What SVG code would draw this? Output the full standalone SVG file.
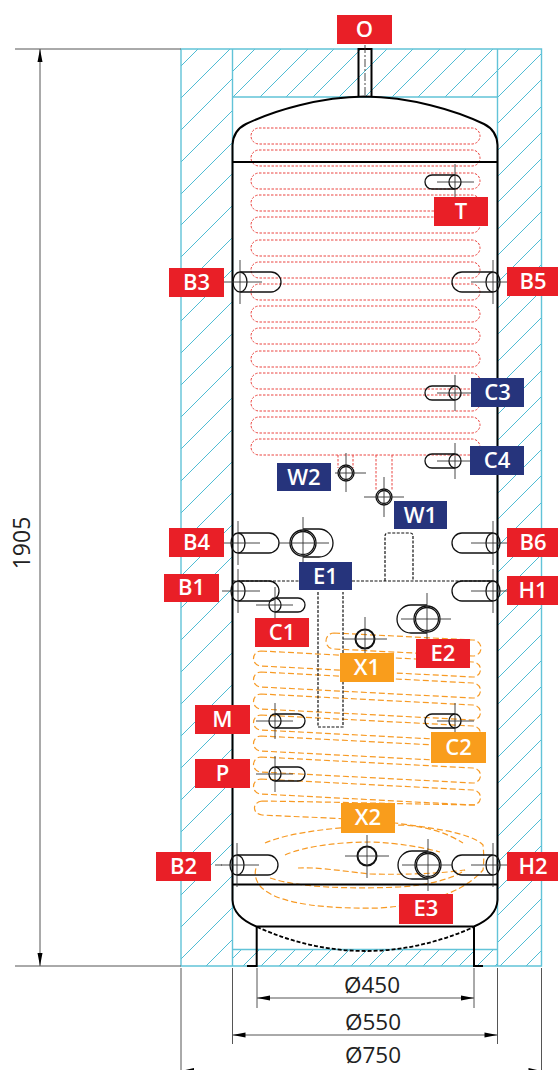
<svg xmlns="http://www.w3.org/2000/svg" xmlns:xlink="http://www.w3.org/1999/xlink" width="558" height="1070" viewBox="0 0 558 1070">
<style>
.hat{fill:none;stroke:#4fbcd4;stroke-width:1}
.frm{fill:none;stroke:#62c3d8;stroke-width:1.4}
.blk{fill:none;stroke:#000;stroke-width:2}
.fit{fill:none;stroke:#111;stroke-width:1.300}
.cross{fill:none;stroke:#333;stroke-width:.9}
.red{fill:none;stroke:#ea4540;stroke-width:1;stroke-dasharray:2.500 1.500}
.org{fill:none;stroke:#f79a24;stroke-width:1.200;stroke-dasharray:6 3}
.dsh{fill:none;stroke:#111;stroke-width:1.200;stroke-dasharray:3 1.500}
.dim{fill:none;stroke:#555;stroke-width:1}
.arr{fill:#000}
.r{fill:#e91f27}.n{fill:#26347c}.o{fill:#f99d1c}
.lb{font:600 22px "Open Sans",sans-serif;fill:#fff;text-anchor:middle}
.dt{font:400 22.500px "Open Sans",sans-serif;fill:#222;text-anchor:middle}
</style>
<defs>
<clipPath id="cl"><rect x="181" y="49" width="51.500" height="917"/></clipPath>
<clipPath id="cr"><rect x="497.500" y="49" width="44" height="917"/></clipPath>
<clipPath id="ct"><rect x="232.500" y="49" width="265" height="48"/></clipPath>
<clipPath id="cb"><rect x="232.500" y="949.500" width="265" height="16.500"/></clipPath>
<g id="big"><path class="fit" d="M0-10H31A10 10 0 0 1 31 10H0"/><ellipse class="fit" rx="7" ry="10"/><path class="cross" d="M-16 0H22M0-22V22"/></g>
<g id="small"><path class="fit" d="M0-7H23A7 7 0 0 1 23 7H0"/><ellipse class="fit" rx="6" ry="7"/><path class="cross" d="M-19 0H18M0-18V18"/></g>
<g id="tube"><path class="fit" d="M0-14H16A14 14 0 0 1 16 14H0"/><circle class="fit" r="13"/><circle class="fit" r="11.500"/><path class="cross" d="M-24 0H26M0-26V26"/></g>
</defs>
<g id="insulation">
<path class="hat" clip-path="url(#cl)" d="M247 0L0 247M279 0L0 279M311 0L0 311M343 0L0 343M375 0L0 375M406 0L0 406M438 0L0 438M470 0L0 470M502 0L0 502M534 0L0 534M566 0L0 566M598 0L0 598M630 0L0 630M662 0L0 662M694 0L0 694M725 0L0 725M757 0L0 757M789 0L0 789M821 0L0 821M853 0L0 853M885 0L0 885M917 0L0 917M949 0L0 949M981 0L0 981M1013 0L0 1013M1045 0L0 1045M1076 0L0 1076M1108 0L0 1108M1140 0L0 1140M1172 0L0 1172"/>
<path class="hat" clip-path="url(#cr)" d="M568 0L0 568M595 0L0 595M621 0L0 621M648 0L0 648M674 0L0 674M700 0L0 700M727 0L0 727M753 0L0 753M780 0L0 780M806 0L0 806M832 0L0 832M859 0L0 859M885 0L0 885M912 0L0 912M938 0L0 938M964 0L0 964M991 0L0 991M1017 0L0 1017M1044 0L0 1044M1070 0L0 1070M1096 0L0 1096M1123 0L0 1123M1149 0L0 1149M1176 0L0 1176M1202 0L0 1202M1228 0L0 1228M1255 0L0 1255M1281 0L0 1281M1308 0L0 1308M1334 0L0 1334M1360 0L0 1360M1387 0L0 1387M1413 0L0 1413M1440 0L0 1440M1466 0L0 1466M1492 0L0 1492"/>
<path class="hat" clip-path="url(#ct)" d="M304 0L0 304M330 0L0 330M357 0L0 357M383 0L0 383M410 0L0 410M436 0L0 436M462 0L0 462M489 0L0 489M515 0L0 515M542 0L0 542M568 0L0 568M594 0L0 594"/>
<path class="hat" clip-path="url(#cb)" d="M1191 0L0 1191M1209 0L0 1209M1227 0L0 1227M1245 0L0 1245M1263 0L0 1263M1281 0L0 1281M1299 0L0 1299M1317 0L0 1317M1335 0L0 1335M1353 0L0 1353M1371 0L0 1371M1389 0L0 1389M1407 0L0 1407M1425 0L0 1425M1443 0L0 1443M1461 0L0 1461"/>
<path class="frm" d="M181 49H541.500V966H181ZM232.500 49V966M497.500 49V966M232.500 97H497.500M232.500 949.500H497.500"/>
</g>
<g id="coils">
<g class="red">
<rect x="251" y="128" width="229" height="16" rx="8"/><rect x="251" y="150" width="229" height="16" rx="8"/><rect x="251" y="173" width="229" height="16" rx="8"/><rect x="251" y="195" width="229" height="16" rx="8"/><rect x="251" y="217" width="229" height="16" rx="8"/><rect x="251" y="240" width="229" height="16" rx="8"/><rect x="251" y="262" width="229" height="16" rx="8"/><rect x="251" y="284" width="229" height="16" rx="8"/><rect x="251" y="306" width="229" height="16" rx="8"/><rect x="251" y="328" width="229" height="16" rx="8"/><rect x="251" y="351" width="229" height="16" rx="8"/><rect x="251" y="373" width="229" height="16" rx="8"/><rect x="251" y="395" width="229" height="16" rx="8"/><rect x="251" y="417" width="229" height="16" rx="8"/><rect x="251" y="439" width="229" height="16" rx="8"/>
<path d="M338 455V468M353 455V468M376 455V490M392 455V490"/>
</g>
<g class="org">
<path d="M334 633L473 640A8 8 0 0 1 473 656L334 649A8 8 0 0 1 334 633Z"/>
<path d="M261 651L473 662A7.500 7.500 0 0 1 473 677L261 666A7.500 7.500 0 0 1 261 651Z"/>
<path d="M261 672L473 683A7.500 7.500 0 0 1 473 698L261 687A7.500 7.500 0 0 1 261 672Z"/>
<path d="M261 694L473 705A7.500 7.500 0 0 1 473 720L261 709A7.500 7.500 0 0 1 261 694Z"/>
<path d="M261 715L473 726A7.500 7.500 0 0 1 473 741L261 730A7.500 7.500 0 0 1 261 715Z"/>
<path d="M261 736L473 747A7.500 7.500 0 0 1 473 762L261 751A7.500 7.500 0 0 1 261 736Z"/>
<path d="M261 757L473 768A7.500 7.500 0 0 1 473 783L261 772A7.500 7.500 0 0 1 261 757Z"/>
<path d="M261 779L473 790A7.500 7.500 0 0 1 473 805L261 794A7.500 7.500 0 0 1 261 779Z"/>
<path d="M262 801C330 802 410 804 478 805M262 801C252 802 252 814 262 815C320 818 350 818 395 823C430 828 470 832 483 845C484 855 484 862 483 870C470 885 440 904 380 908C330 909 280 905 262 888C256 882 254 875 256 868"/>
<path d="M265 843C290 832 340 826 400 825C430 826 450 835 463 843"/>
<path d="M285 855C305 846 340 842 370 842C400 843 425 848 440 852M298 868C315 867 335 870 370 874C410 875 445 873 465 870"/>
<path d="M270 878C300 888 350 889 400 887C430 885 455 878 465 870"/>
</g>
</g>
<g id="tank">
<path class="blk" d="M232.500 900V145C233 134 238 128 246 124C275 110 320 97 365 96.500C410 97 455 110 484 124C492 128 497 134 497.500 145V900"/>
<path class="blk" d="M232.500 162H497.500"/>
<path class="blk" d="M232.500 884.500H497.500"/>
<path class="blk" d="M232.500 900C233 912 243 921 256.500 926.500H474C487 921 497 912 497.500 900"/>
<path class="blk" d="M256.700 926.500V966H247M474 926.500V966H483"/>
<path d="M257 927Q365 975 474 927" fill="none" stroke="#000" stroke-width="1.800" stroke-dasharray="4 2"/>
<path class="dsh" d="M232.500 581H299M352 581H498M385 581V536Q385 533 388 533H410Q413 533 413 536V581M318 592V727H343V592"/>
</g>
<g id="connectors">
<path class="dim" d="M15 49H181M15 966H181M40 49V966M257 968V1008M474 968V1008M257 998H474M232.500 968V1044M497.500 968V1044M232.500 1035H497.500M181 968V1070M541.500 968V1070"/>
<path class="arr" d="M40 49L37.500 62H42.500ZM40 966L37.500 953H42.500ZM257 998L270 995.500V1000.500ZM474 998L461 995.500V1000.500ZM232.500 1035L245.500 1032.500V1037.500ZM497.500 1035L484.500 1032.500V1037.500ZM181 1071L194 1068V1074ZM541.500 1071L528.500 1068V1074Z"/>
<path class="blk" d="M358.500 97V49H371.500V97"/>
<path class="cross" stroke-dasharray="8 2 2 2" d="M365 45V97"/>
<text class="dt" x="372" y="993">Ø450</text>
<text class="dt" x="373" y="1030">Ø550</text>
<text class="dt" x="373" y="1063">Ø750</text>
<text class="dt" style="font-size:23px" transform="translate(30 543) rotate(-90)">1905</text>
</g>
<g id="node-O"><rect class="r" x="337" y="15" width="55" height="29"/><text class="lb" x="364.500" y="37">O</text></g>
<g id="node-T"><use href="#small" transform="translate(455 182) scale(-1 1)"/><rect class="r" x="434" y="197" width="54" height="29"/><text class="lb" x="461" y="219">T</text></g>
<g id="node-B3"><use href="#big" transform="translate(240 282)"/><rect class="r" x="169" y="268" width="55" height="29"/><text class="lb" x="196.500" y="290">B3</text></g>
<g id="node-B5"><use href="#big" transform="translate(493 282) scale(-1 1)"/><rect class="r" x="507" y="267" width="51" height="29"/><text class="lb" x="533" y="289">B5</text></g>
<g id="node-C3"><use href="#small" transform="translate(455 393) scale(-1 1)"/><rect class="n" x="471" y="378" width="53" height="29"/><text class="lb" x="497.500" y="400">C3</text></g>
<g id="node-C4"><use href="#small" transform="translate(455 461) scale(-1 1)"/><rect class="n" x="470" y="446" width="54" height="29"/><text class="lb" x="497" y="468">C4</text></g>
<g id="node-W2"><circle class="fit" cx="346" cy="473" r="8"/><circle class="fit" cx="346" cy="473" r="6.500"/><path class="cross" d="M335 473H366M346 453V492"/><rect class="n" x="277" y="463" width="54" height="28"/><text class="lb" x="304" y="485">W2</text></g>
<g id="node-W1"><circle class="fit" cx="384" cy="497" r="8"/><circle class="fit" cx="384" cy="497" r="6.500"/><path class="cross" d="M364 497H404M384 477V517"/><rect class="n" x="394" y="501" width="53" height="28"/><text class="lb" x="420.500" y="523">W1</text></g>
<g id="node-B4"><use href="#big" transform="translate(238 543)"/><rect class="r" x="169" y="528" width="55" height="29"/><text class="lb" x="196.500" y="550">B4</text></g>
<g id="node-B6"><use href="#big" transform="translate(493 543) scale(-1 1)"/><rect class="r" x="507" y="528" width="51" height="29"/><text class="lb" x="533" y="550">B6</text></g>
<g id="node-E1"><use href="#tube" transform="translate(303 543)"/><rect class="n" x="299" y="562" width="53" height="28"/><text class="lb" x="325.500" y="584">E1</text></g>
<g id="node-B1"><use href="#big" transform="translate(238 591)"/><rect class="r" x="164" y="574" width="55" height="28"/><text class="lb" x="191.500" y="595">B1</text></g>
<g id="node-H1"><use href="#big" transform="translate(493 591) scale(-1 1)"/><rect class="r" x="507" y="576" width="51" height="29"/><text class="lb" x="533" y="598">H1</text></g>
<g id="node-C1"><use href="#small" transform="translate(275 605)"/><rect class="r" x="255" y="618" width="54" height="29"/><text class="lb" x="282" y="640">C1</text></g>
<g id="node-E2"><use href="#tube" transform="translate(427 619) scale(-1 1)"/><rect class="r" x="416" y="639" width="54" height="29"/><text class="lb" x="443" y="661">E2</text></g>
<g id="node-X1"><circle cx="365" cy="639" r="9.500" fill="none" stroke="#111" stroke-width="2"/><path class="cross" d="M343 639H387M365 617V660"/><rect class="o" x="340" y="653" width="54" height="29"/><text class="lb" x="367" y="675">X1</text></g>
<g id="node-M"><use href="#small" transform="translate(275 721)"/><rect class="r" x="195" y="705" width="55" height="29"/><text class="lb" x="222.500" y="727">M</text></g>
<g id="node-C2"><use href="#small" transform="translate(455 721) scale(-1 1)"/><rect class="o" x="431" y="732" width="55" height="31"/><text class="lb" x="458.500" y="755">C2</text></g>
<g id="node-P"><use href="#small" transform="translate(275 774)"/><rect class="r" x="195" y="759" width="55" height="29"/><text class="lb" x="222.500" y="781">P</text></g>
<g id="node-X2"><circle cx="367" cy="856" r="9.500" fill="none" stroke="#111" stroke-width="2"/><path class="cross" d="M345 856H389M367 835V878"/><rect class="o" x="341" y="803" width="54" height="30"/><text class="lb" x="368" y="825">X2</text></g>
<g id="node-B2"><use href="#big" transform="translate(237 865)"/><path class="cross" d="M215 865H222"/><rect class="r" x="156" y="852" width="55" height="29"/><text class="lb" x="183.500" y="874">B2</text></g>
<g id="node-H2"><use href="#big" transform="translate(493 865) scale(-1 1)"/><rect class="r" x="507" y="852" width="51" height="29"/><text class="lb" x="533" y="874">H2</text></g>
<g id="node-E3"><use href="#tube" transform="translate(428 865) scale(-1 1)"/><rect class="r" x="399" y="894" width="54" height="30"/><text class="lb" x="426" y="916">E3</text></g>
</svg>
